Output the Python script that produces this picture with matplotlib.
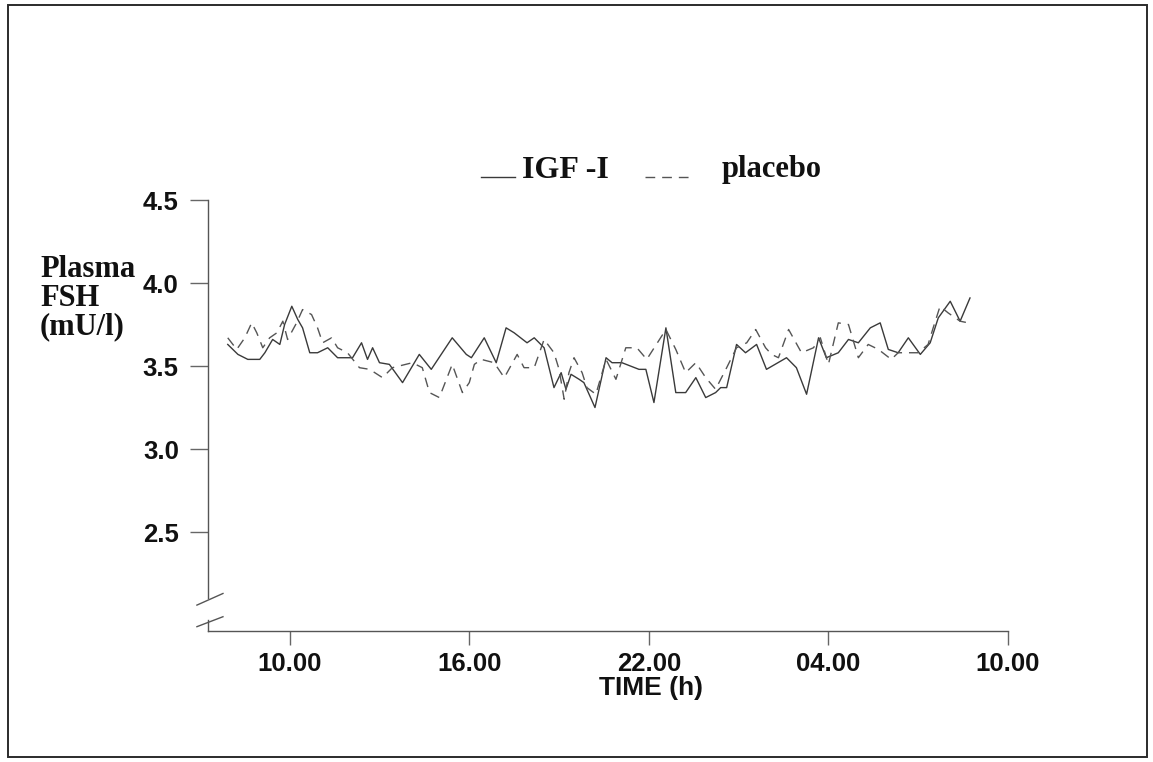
import numpy as np
import matplotlib
matplotlib.use("Agg")
import matplotlib.pyplot as plt
from matplotlib.patches import Rectangle
from matplotlib.lines import Line2D

# clock time in hours from the first midnight (24+ = next day), plasma FSH in mU/l
igf_hours = [7.93, 8.27, 8.60, 9.00, 9.17, 9.43, 9.67, 9.83, 10.07, 10.27, 10.43, 10.67,
             10.93, 11.27, 11.60, 12.10, 12.40, 12.60, 12.77, 13.00, 13.33, 13.77, 14.33,
             14.73, 15.43, 15.90, 16.07, 16.50, 16.90, 17.23, 17.50, 17.93, 18.17, 18.50,
             18.83, 19.07, 19.23, 19.40, 19.67, 19.83, 20.20, 20.57, 20.77, 21.10, 21.67,
             21.90, 22.17, 22.57, 22.90, 23.23, 23.57, 23.90, 24.23, 24.40, 24.60, 24.93,
             25.23, 25.60, 25.93, 26.60, 26.93, 27.27, 27.67, 27.93, 28.33, 28.67, 29.00,
             29.40, 29.73, 30.00, 30.33, 30.67, 31.07, 31.40, 31.67, 32.07, 32.40, 32.73]
igf_fsh = [3.63, 3.57, 3.54, 3.54, 3.58, 3.66, 3.63, 3.75, 3.86, 3.78, 3.73, 3.58,
           3.58, 3.61, 3.55, 3.55, 3.64, 3.54, 3.61, 3.52, 3.51, 3.40, 3.57,
           3.48, 3.67, 3.57, 3.55, 3.67, 3.52, 3.73, 3.70, 3.64, 3.67, 3.61,
           3.37, 3.46, 3.36, 3.45, 3.42, 3.40, 3.25, 3.55, 3.52, 3.52, 3.48,
           3.48, 3.28, 3.73, 3.34, 3.34, 3.43, 3.31, 3.34, 3.37, 3.37, 3.63,
           3.58, 3.63, 3.48, 3.55, 3.49, 3.33, 3.67, 3.55, 3.58, 3.66, 3.64,
           3.73, 3.76, 3.60, 3.58, 3.67, 3.57, 3.64, 3.79, 3.89, 3.77, 3.91]

placebo_hours = [7.93, 8.23, 8.50, 8.73, 8.90, 9.10, 9.33, 9.57, 9.77, 9.93, 10.23, 10.43,
                 10.73, 10.93, 11.10, 11.40, 11.60, 11.93, 12.33, 12.67, 13.10, 13.43,
                 14.10, 14.43, 14.67, 15.00, 15.43, 15.77, 16.00, 16.17, 16.40, 16.83,
                 17.17, 17.60, 17.83, 18.17, 18.50, 18.83, 19.00, 19.17, 19.33, 19.50,
                 19.77, 19.93, 20.23, 20.57, 20.90, 21.23, 21.60, 21.93, 22.57, 22.90,
                 23.23, 23.57, 23.90, 24.23, 24.60, 24.93, 25.27, 25.57, 25.90, 26.10,
                 26.33, 26.67, 27.10, 27.50, 27.73, 28.00, 28.33, 28.67, 29.00, 29.33,
                 29.67, 30.10, 30.33, 31.00, 31.33, 31.50, 31.73, 32.00, 32.40, 32.67]
placebo_fsh = [3.67, 3.60, 3.67, 3.76, 3.70, 3.61, 3.67, 3.70, 3.77, 3.66, 3.76, 3.84,
               3.81, 3.73, 3.64, 3.67, 3.61, 3.58, 3.49, 3.48, 3.43, 3.49,
               3.52, 3.49, 3.34, 3.31, 3.51, 3.34, 3.40, 3.51, 3.54, 3.52,
               3.43, 3.57, 3.49, 3.49, 3.66, 3.58, 3.48, 3.30, 3.46, 3.55,
               3.46, 3.37, 3.33, 3.54, 3.42, 3.61, 3.61, 3.54, 3.72, 3.60,
               3.46, 3.52, 3.43, 3.36, 3.49, 3.61, 3.64, 3.72, 3.61, 3.57,
               3.55, 3.72, 3.58, 3.61, 3.67, 3.51, 3.76, 3.75, 3.55, 3.63,
               3.60, 3.54, 3.58, 3.58, 3.63, 3.73, 3.86, 3.82, 3.77, 3.76]

x_ticks = [10, 16, 22, 28, 34]
x_ticklabels = ["10.00", "16.00", "22.00", "04.00", "10.00"]
y_ticks = [2.5, 3.0, 3.5, 4.0, 4.5]

sans = ["Liberation Sans", "DejaVu Sans"]
serif = ["Liberation Serif", "DejaVu Serif"]
ink = "#2b2b2b"
solid_c = "#3a3a3a"
dash_c = "#555555"
dash_style = (0, (7, 5))

W, H = 1153, 762
fig = plt.figure(figsize=(W / 100, H / 100), dpi=100)
fig.add_artist(Rectangle((8 / W, 5 / H), 1139 / W, 752 / H,
                         transform=fig.transFigure, fill=False, lw=1.4, ec=ink))

ax = fig.add_axes([208 / W, 131 / H, 800 / W, 431 / H])
ax.plot(igf_hours, igf_fsh, color=solid_c, lw=1.0)
ax.plot(placebo_hours, placebo_fsh, color=dash_c, lw=1.0, ls=dash_style)

xmin, xmax = 7.27, 34.0
ymin, ymax = 1.904, 4.5
ax.set_xlim(xmin, xmax)
ax.set_ylim(ymin, ymax)

# broken y axis drawn by hand
for s in ["top", "right", "left"]:
    ax.spines[s].set_visible(False)
ax.spines["bottom"].set_color("#555555")
ax.spines["bottom"].set_linewidth(1.0)
ax.plot([xmin, xmin], [2.10, ymax], color="#555555", lw=1.0, clip_on=False)
ax.plot([xmin, xmin], [ymin, 1.97], color="#555555", lw=1.0, clip_on=False)
ax.plot([6.9, 7.77], [2.06, 2.13], color="#555555", lw=1.0, clip_on=False)
ax.plot([6.9, 7.77], [1.93, 1.99], color="#555555", lw=1.0, clip_on=False)

ax.set_xticks(x_ticks)
ax.set_xticklabels(x_ticklabels)
ax.set_yticks(y_ticks)
ax.set_yticklabels([f"{v:.1f}" for v in y_ticks])
ax.tick_params(axis="y", direction="out", length=13, width=1.0, color="#666666", pad=8)
ax.tick_params(axis="x", direction="out", length=10, width=1.0, color="#666666", pad=5)
for lab in ax.get_xticklabels() + ax.get_yticklabels():
    lab.set_fontfamily(sans)
    lab.set_fontweight("bold")
    lab.set_fontsize(18.5)
    lab.set_color("#111111")

ax.set_xlabel("TIME (h)", fontfamily=sans, fontweight="bold", fontsize=19, color="#111111")
ax.xaxis.set_label_coords(0.554, -0.105)

fig.text(40 / W, 1 - 298 / H, "Plasma\nFSH\n(mU/l)", ha="left", va="center",
         fontfamily=serif, fontweight="bold", fontsize=22, linespacing=0.98, color="#111111")

# legend laid out as in the original: line, label, dashed line, label
ly = 1 - 177 / H
fig.add_artist(Line2D([481 / W, 515 / W], [ly, ly], transform=fig.transFigure,
                      color=solid_c, lw=1.0))
fig.text(522 / W, 1 - 170 / H, "IGF -I", ha="left", va="center",
         fontfamily=serif, fontweight="bold", fontsize=23, color="#111111")
fig.add_artist(Line2D([645 / W, 692 / W], [ly, ly], transform=fig.transFigure,
                      color=dash_c, lw=1.0, ls=dash_style))
fig.text(722 / W, 1 - 170 / H, "placebo", ha="left", va="center",
         fontfamily=serif, fontweight="bold", fontsize=22, color="#111111")

fig.savefig("out.png", dpi=100)
